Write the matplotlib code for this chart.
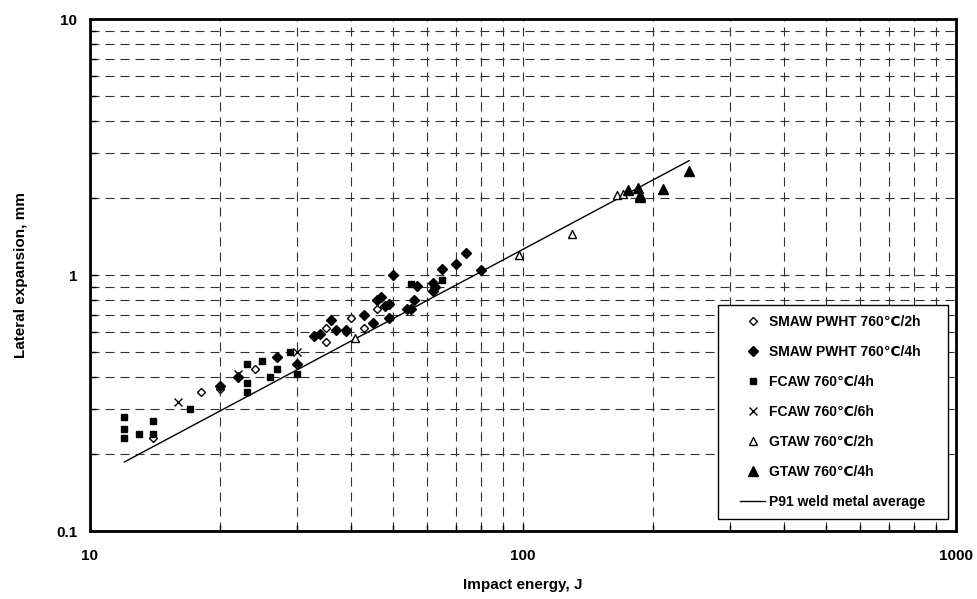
import numpy as np
import matplotlib.pyplot as plt
from matplotlib.patches import Rectangle
from matplotlib.ticker import LogLocator, NullFormatter, FixedFormatter, FixedLocator

plt.rcParams['font.family'] = ['Liberation Sans', 'DejaVu Sans']
plt.rcParams['font.weight'] = 'bold'
plt.rcParams['lines.scale_dashes'] = False

# data
smaw2_energy = [14, 18, 20, 24, 35, 35, 39, 40, 43, 46]
smaw2_lat = [0.23, 0.35, 0.36, 0.43, 0.62, 0.55, 0.60, 0.68, 0.62, 0.74]

smaw4_energy = [20, 22, 27, 30, 33, 34, 36, 37, 39, 43, 45, 46, 47, 48, 49, 49, 50,
                54, 55, 56, 57, 62, 62.5, 62, 65, 70, 74, 80]
smaw4_lat = [0.37, 0.40, 0.48, 0.45, 0.58, 0.59, 0.67, 0.61, 0.61, 0.70, 0.65, 0.80, 0.82,
             0.76, 0.77, 0.68, 1.0, 0.74, 0.74, 0.80, 0.91, 0.93, 0.90, 0.87, 1.06, 1.10, 1.22, 1.05]

fcaw4_energy = [12, 12, 12, 13, 14, 14, 17, 23, 23, 23, 25, 26, 27, 29, 30, 55, 65]
fcaw4_lat = [0.28, 0.25, 0.23, 0.24, 0.27, 0.24, 0.30, 0.38, 0.35, 0.45, 0.46, 0.40, 0.43,
             0.50, 0.41, 0.92, 0.96]

fcaw6_energy = [16, 22, 30]
fcaw6_lat = [0.32, 0.41, 0.50]

gtaw2_energy = [41, 98, 130, 165, 170]
gtaw2_lat = [0.57, 1.20, 1.45, 2.05, 2.08]

gtaw4_energy = [175, 184, 186, 186, 210, 242]
gtaw4_lat = [2.15, 2.18, 2.05, 2.02, 2.16, 2.55]

avg_energy = [12, 242]
avg_lat = [0.186, 2.80]

fig = plt.figure(figsize=(9.78, 5.99), dpi=100)
ax = fig.add_axes([0.092, 0.1135, 0.8855, 0.8545])

ax.plot(smaw2_energy, smaw2_lat, 'D', ms=4.5, mfc='white', mec='black', mew=1,
        label='SMAW PWHT 760\u2103/2h', zorder=3)
ax.plot(smaw4_energy, smaw4_lat, 'D', ms=5, mfc='black', mec='black',
        label='SMAW PWHT 760\u2103/4h', zorder=3)
ax.plot(fcaw4_energy, fcaw4_lat, 's', ms=4.5, mfc='black', mec='black',
        label='FCAW 760\u2103/4h', zorder=3)
ax.plot(fcaw6_energy, fcaw6_lat, 'x', ms=6, mec='black', mew=1,
        label='FCAW 760\u2103/6h', zorder=3)
ax.plot(gtaw2_energy, gtaw2_lat, '^', ms=6, mfc='white', mec='black', mew=1,
        label='GTAW 760\u2103/2h', zorder=3)
ax.plot(gtaw4_energy, gtaw4_lat, '^', ms=6.5, mfc='black', mec='black',
        label='GTAW 760\u2103/4h', zorder=3)
ax.plot(avg_energy, avg_lat, '-', color='black', lw=1, label='P91 weld metal average', zorder=2)

ax.set_xscale('log')
ax.set_yscale('log')
ax.set_xlim(10, 1000)
ax.set_ylim(0.1, 10)

ax.xaxis.set_major_locator(FixedLocator([10, 100, 1000]))
ax.xaxis.set_major_formatter(FixedFormatter(['10', '100', '1000']))
ax.yaxis.set_major_locator(FixedLocator([0.1, 1, 10]))
ax.yaxis.set_major_formatter(FixedFormatter(['0.1', '1', '10']))
ax.xaxis.set_minor_locator(LogLocator(base=10, subs=np.arange(2, 10)))
ax.yaxis.set_minor_locator(LogLocator(base=10, subs=np.arange(2, 10)))
ax.xaxis.set_minor_formatter(NullFormatter())
ax.yaxis.set_minor_formatter(NullFormatter())

ax.tick_params(which='both', direction='in', color='black')
ax.tick_params(which='major', length=5, width=1)
ax.tick_params(which='minor', length=4, width=1)
ax.tick_params(axis='x', which='major', pad=13, labelsize=11)
ax.tick_params(axis='y', which='major', pad=9, labelsize=11)

ax.grid(which='both', linestyle=(0, (6.5, 4.3)), linewidth=0.8, color='#303030')
ax.set_axisbelow(True)
for s in ax.spines.values():
    s.set_linewidth(2)

ax.set_xlabel('Impact energy, J', fontsize=11, fontweight='bold', labelpad=11)
ax.set_ylabel('Lateral expansion, mm', fontsize=11, fontweight='bold', labelpad=20)

# legend box drawn separately so its padding matches the original
box = Rectangle((0.7252, 0.0234), 0.2656, 0.418, transform=ax.transAxes,
                facecolor='white', edgecolor='black', lw=1, zorder=4)
ax.add_patch(box)
leg = ax.legend(loc='center', bbox_to_anchor=(0.858, 0.2324), borderaxespad=0,
                frameon=False, labelspacing=1.15, handlelength=1.8, handletextpad=0.3,
                borderpad=0.5, prop={'weight': 'bold', 'size': 10})
leg.set_zorder(5)

fig.savefig('out.png', dpi=100)
